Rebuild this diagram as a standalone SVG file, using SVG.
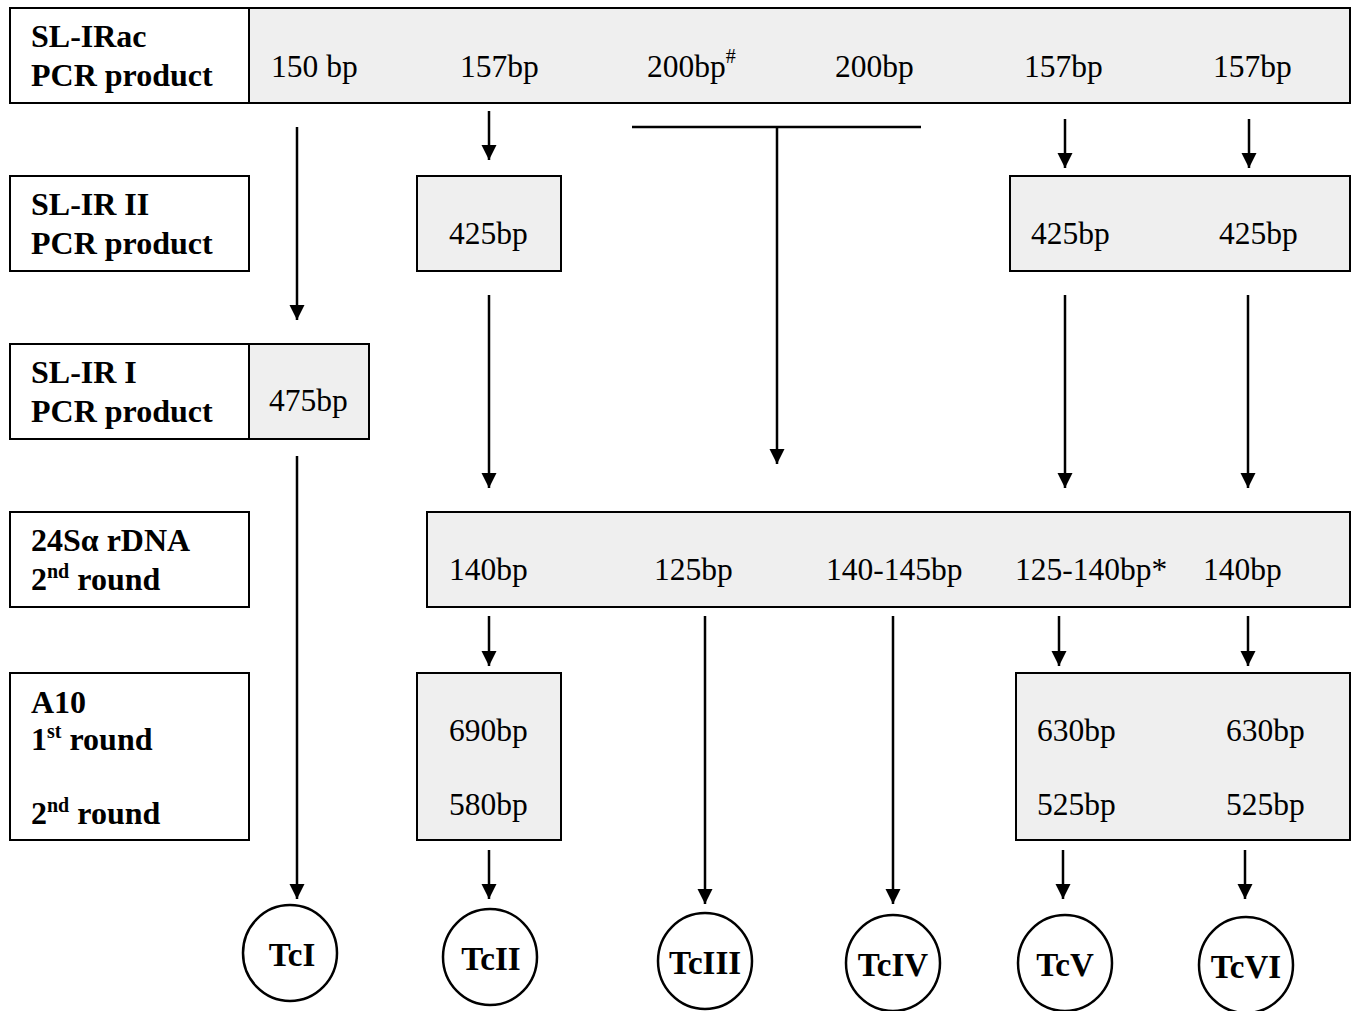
<svg xmlns="http://www.w3.org/2000/svg" width="1358" height="1011" viewBox="0 0 1358 1011">
<defs>
<style>
.lab{fill:#fff;stroke:#000;stroke-width:2}
.g{fill:#efefef;stroke:#000;stroke-width:2}
.b{font-family:"Liberation Serif","Times New Roman",serif;font-weight:bold;font-size:32px;fill:#000}
.r{font-family:"Liberation Serif","Times New Roman",serif;font-size:31.5px;fill:#000}
.c{font-family:"Liberation Serif","Times New Roman",serif;font-weight:bold;font-size:33px;fill:#000;text-anchor:middle}
.ci{fill:#fff;stroke:#000;stroke-width:2.5}
.ln{stroke:#000;stroke-width:2.5;fill:none}
.sup{font-size:20px}
</style>
<marker id="ah" viewBox="0 0 10 10" refX="10" refY="5" markerWidth="6" markerHeight="6.5" markerUnits="strokeWidth" orient="auto">
<path d="M0,0 L10,5 L0,10 Z" fill="#000"/>
</marker>
</defs>
<rect width="1358" height="1011" fill="#fff"/>

<g id="row1">
<rect class="lab" x="10" y="8" width="239" height="95"/>
<rect class="g" x="249" y="8" width="1101" height="95"/>
<text class="b" x="31" y="47">SL-IRac</text>
<text class="b" x="31" y="86">PCR product</text>
<text class="r" x="271" y="77">150 bp</text>
<text class="r" x="460" y="77">157bp</text>
<text class="r" x="647" y="77">200bp<tspan class="sup" dy="-14">#</tspan></text>
<text class="r" x="835" y="77">200bp</text>
<text class="r" x="1024" y="77">157bp</text>
<text class="r" x="1213" y="77">157bp</text>
</g>

<g id="row2">
<rect class="lab" x="10" y="176" width="239" height="95"/>
<text class="b" x="31" y="215">SL-IR II</text>
<text class="b" x="31" y="254">PCR product</text>
<rect class="g" x="417" y="176" width="144" height="95"/>
<text class="r" x="449" y="244">425bp</text>
<rect class="g" x="1010" y="176" width="340" height="95"/>
<text class="r" x="1031" y="244">425bp</text>
<text class="r" x="1219" y="244">425bp</text>
</g>

<g id="row3">
<rect class="lab" x="10" y="344" width="239" height="95"/>
<text class="b" x="31" y="383">SL-IR I</text>
<text class="b" x="31" y="422">PCR product</text>
<rect class="g" x="249" y="344" width="120" height="95"/>
<text class="r" x="269" y="411">475bp</text>
</g>

<g id="row4">
<rect class="lab" x="10" y="512" width="239" height="95"/>
<text class="b" x="31" y="551">24Sα rDNA</text>
<text class="b" x="31" y="590">2<tspan class="sup" dy="-12">nd</tspan><tspan dy="12"> round</tspan></text>
<rect class="g" x="427" y="512" width="923" height="95"/>
<text class="r" x="449" y="580">140bp</text>
<text class="r" x="654" y="580">125bp</text>
<text class="r" x="826" y="580">140-145bp</text>
<text class="r" x="1015" y="580">125-140bp*</text>
<text class="r" x="1203" y="580">140bp</text>
</g>

<g id="row5">
<rect class="lab" x="10" y="673" width="239" height="167"/>
<text class="b" x="31" y="713">A10</text>
<text class="b" x="31" y="750">1<tspan class="sup" dy="-12">st</tspan><tspan dy="12"> round</tspan></text>
<text class="b" x="31" y="824">2<tspan class="sup" dy="-12">nd</tspan><tspan dy="12"> round</tspan></text>
<rect class="g" x="417" y="673" width="144" height="167"/>
<text class="r" x="449" y="741">690bp</text>
<text class="r" x="449" y="815">580bp</text>
<rect class="g" x="1016" y="673" width="334" height="167"/>
<text class="r" x="1037" y="741">630bp</text>
<text class="r" x="1226" y="741">630bp</text>
<text class="r" x="1037" y="815">525bp</text>
<text class="r" x="1226" y="815">525bp</text>
</g>

<g id="TcI"><ellipse class="ci" cx="290" cy="953" rx="47" ry="48"/><text class="c" x="292" y="966">TcI</text></g>
<g id="TcII"><ellipse class="ci" cx="490" cy="957" rx="47" ry="48"/><text class="c" x="491" y="970">TcII</text></g>
<g id="TcIII"><ellipse class="ci" cx="705" cy="961" rx="47" ry="48"/><text class="c" x="705" y="974">TcIII</text></g>
<g id="TcIV"><ellipse class="ci" cx="893" cy="963" rx="47" ry="48"/><text class="c" x="893" y="976">TcIV</text></g>
<g id="TcV"><ellipse class="ci" cx="1065" cy="963" rx="47" ry="48"/><text class="c" x="1065" y="976">TcV</text></g>
<g id="TcVI"><ellipse class="ci" cx="1246" cy="965" rx="47" ry="48"/><text class="c" x="1246" y="978">TcVI</text></g>

<g id="connectors">
<line class="ln" x1="297" y1="127" x2="297" y2="320" marker-end="url(#ah)"/>
<line class="ln" x1="489" y1="111" x2="489" y2="160" marker-end="url(#ah)"/>
<line class="ln" x1="632" y1="127" x2="921" y2="127"/>
<line class="ln" x1="777" y1="127" x2="777" y2="464" marker-end="url(#ah)"/>
<line class="ln" x1="1065" y1="119" x2="1065" y2="168" marker-end="url(#ah)"/>
<line class="ln" x1="1249" y1="119" x2="1249" y2="168" marker-end="url(#ah)"/>
<line class="ln" x1="489" y1="295" x2="489" y2="488" marker-end="url(#ah)"/>
<line class="ln" x1="1065" y1="295" x2="1065" y2="488" marker-end="url(#ah)"/>
<line class="ln" x1="1248" y1="295" x2="1248" y2="488" marker-end="url(#ah)"/>
<line class="ln" x1="297" y1="456" x2="297" y2="899" marker-end="url(#ah)"/>
<line class="ln" x1="489" y1="616" x2="489" y2="666" marker-end="url(#ah)"/>
<line class="ln" x1="705" y1="616" x2="705" y2="904" marker-end="url(#ah)"/>
<line class="ln" x1="893" y1="616" x2="893" y2="904" marker-end="url(#ah)"/>
<line class="ln" x1="1059" y1="616" x2="1059" y2="666" marker-end="url(#ah)"/>
<line class="ln" x1="1248" y1="616" x2="1248" y2="666" marker-end="url(#ah)"/>
<line class="ln" x1="489" y1="850" x2="489" y2="899" marker-end="url(#ah)"/>
<line class="ln" x1="1063" y1="850" x2="1063" y2="899" marker-end="url(#ah)"/>
<line class="ln" x1="1245" y1="850" x2="1245" y2="899" marker-end="url(#ah)"/>
</g>
</svg>
